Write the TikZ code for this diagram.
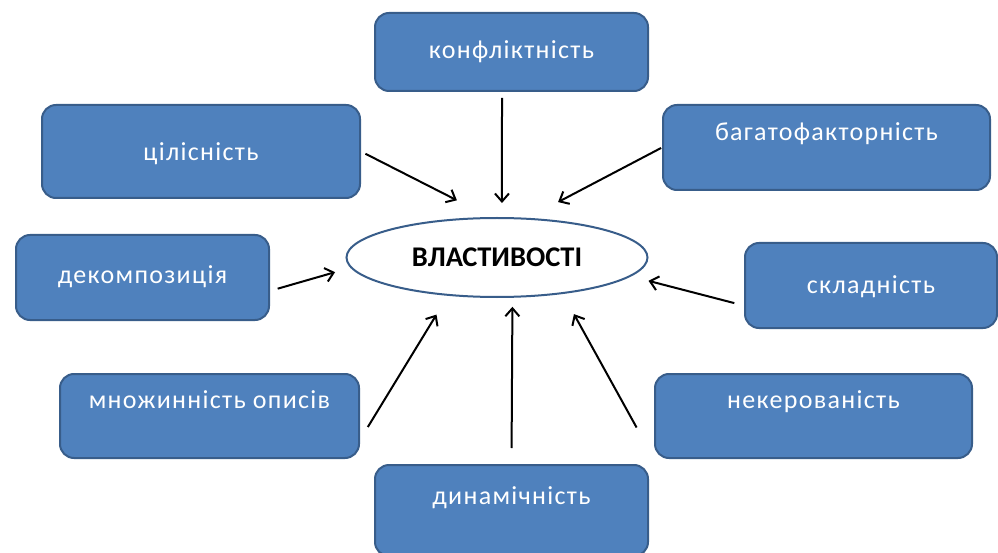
\documentclass[tikz,border=0pt]{standalone}
\usepackage{fontspec}
\setmainfont{Carlito}
\newfontfamily\boxfont[LetterSpace=5]{Carlito}
\usetikzlibrary{shapes.geometric,arrows.meta}
\definecolor{boxblue}{RGB}{79,129,189}
\definecolor{edgeblue}{RGB}{56,93,138}

\begin{document}
\begin{tikzpicture}[x=1pt, y=-1pt, thick,
		main/.style = {ellipse, draw=edgeblue, line width=2pt, fill=white, minimum width=301pt, minimum height=79pt, inner sep=0pt, font=\bfseries\fontsize{28.5}{32}\selectfont},
		prop/.style = {draw=edgeblue, line width=2pt, fill=boxblue, rounded corners=14pt, text=white, inner sep=0pt, text height=19pt, text depth=7pt, minimum height=85pt, font=\boxfont\fontsize{26}{30}\selectfont},
		arr/.style = {-{Straight Barb[length=8pt,width=14pt]}, line width=2pt}]
		\useasboundingbox (0,0) rectangle (998,553);
		
		\node[main] (c) at (497,257.5) {ВЛАСТИВОСТІ};
		\node[prop, minimum width=273pt, minimum height=78pt, text depth=5pt] (1) at (511.5,52) {конфліктність};
		\node[prop, minimum width=318pt, minimum height=93pt, text depth=0pt] (2) at (201,151.5) {цілісність};
		\node[prop, minimum width=327pt, text depth=32pt] (3) at (826.5,147.5) {багатофакторність};
		\node[prop, minimum width=253pt] (4) at (142.5,277.5) {декомпозиція};
		\node[prop, minimum width=252pt, text depth=4pt] (5) at (871,285.5) {складність};
		\node[prop, minimum width=299pt, minimum height=84pt, text depth=35pt] (6) at (209.5,416) {множинність описів};
		\node[prop, minimum width=317pt, minimum height=84pt, text depth=35pt] (7) at (813.5,416) {некерованість};
		\node[prop, minimum width=273pt, minimum height=91pt, text depth=32pt] (8) at (511.5,510.5) {динамічність};
		
		\draw[arr, shorten <=6pt, shorten >=14pt] ([xshift=-9.5pt]1.south) -- (c.83);
		\draw[arr, shorten <=5pt, shorten >=37pt] (2.east) -- (c.100);
		\draw[arr, shorten <=1pt, shorten >=34pt] (3.west) -- (c.52);
		\draw[arr, shorten <=8pt, shorten >=16pt] (4.-6) -- (c.184.6);
		\draw[arr, shorten <=10pt, shorten >=18pt] (5.189.5) -- (c.-8);
		\draw[arr, shorten <=15pt, shorten >=22pt] (6.-9) -- (c.218.5);
		\draw[arr, shorten <=36pt, shorten >=23pt] (7.south west) -- (c.-29);
		\draw[arr, shorten <=16pt, shorten >=9pt] (8.north) -- (c.-69);
	\end{tikzpicture}
\end{document}
